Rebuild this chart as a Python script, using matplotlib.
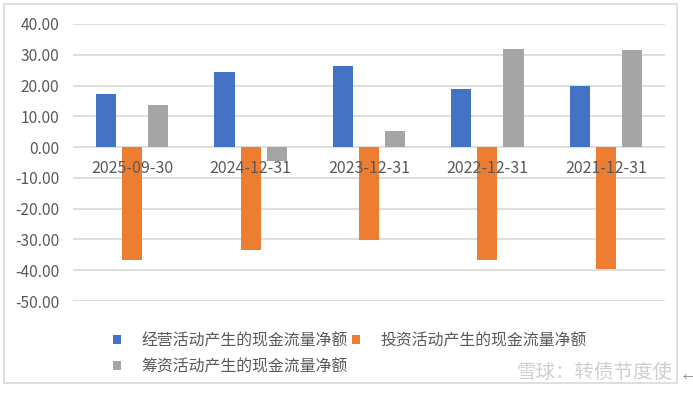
import numpy as np
import matplotlib.pyplot as plt
from matplotlib.patches import Rectangle

plt.rcParams["font.family"] = ["Noto Sans CJK SC", "DejaVu Sans"]

dates = ["2025-09-30", "2024-12-31", "2023-12-31", "2022-12-31", "2021-12-31"]
operating = [17.2, 24.4, 26.2, 18.8, 19.9]
investing = [-36.6, -33.3, -30.2, -36.7, -39.6]
financing = [13.6, -4.5, 5.3, 31.8, 31.6]
series_names = ["经营活动产生的现金流量净额", "投资活动产生的现金流量净额", "筹资活动产生的现金流量净额"]
colors = ["#4472C4", "#ED7D31", "#A5A5A5"]
yticks = np.arange(-50, 41, 10)

fig = plt.figure(figsize=(6.93, 3.93), dpi=100)
ax = fig.add_axes([73 / 693, 1 - 301 / 393, (665 - 73) / 693, (301 - 24) / 393])

x = np.arange(len(dates))
w = 0.17
step = 0.22
bars = []
for k, vals in enumerate([operating, investing, financing]):
    b = ax.bar(x + (k - 1) * step, vals, width=w, color=colors[k],
               label=series_names[k], zorder=2)
    bars.append(b)

ax.set_xlim(-0.5, len(dates) - 0.5)
ax.set_ylim(-50, 40)
ax.set_yticks(yticks)
ax.set_yticklabels([f"{v:.2f}" for v in yticks])
ax.set_xticks([])
ax.grid(axis="y", color="#D9D9D9", linewidth=1.2, zorder=0)
for s in ax.spines.values():
    s.set_visible(False)
ax.tick_params(axis="y", length=0, pad=10, labelsize=11.2, labelcolor="#595959")

for i, d in enumerate(dates):
    ax.annotate(d, (i, 0), xytext=(0, -9.5), textcoords="offset points",
                ha="center", va="top", fontsize=11.5, color="#595959", zorder=3)

handles = [bars[0], bars[2], bars[1]]
labels = [series_names[0], series_names[2], series_names[1]]
fig.legend(handles, labels, loc="upper left", bbox_to_anchor=(99 / 693, 1 - 318 / 393),
           ncol=2, frameon=False, fontsize=11.4, labelcolor="#595959",
           handlelength=0.5, handleheight=0.5, handletextpad=1.3,
           columnspacing=0.25, labelspacing=0.55)

fig.patches.append(Rectangle((4 / 693, 1 - 383 / 393), 673 / 693, 379 / 393,
                             transform=fig.transFigure, fill=False,
                             edgecolor="#D9D9D9", linewidth=1.2))
fig.text(673 / 693, 1 - 372 / 393, "雪球：转债节度使", ha="right", va="center",
         fontsize=14, color="#CFCFCF")
fig.text(688 / 693, 1 - 378 / 393, "←", ha="center", va="center",
         fontsize=8, color="#808080")

plt.savefig("out.png", dpi=100)
